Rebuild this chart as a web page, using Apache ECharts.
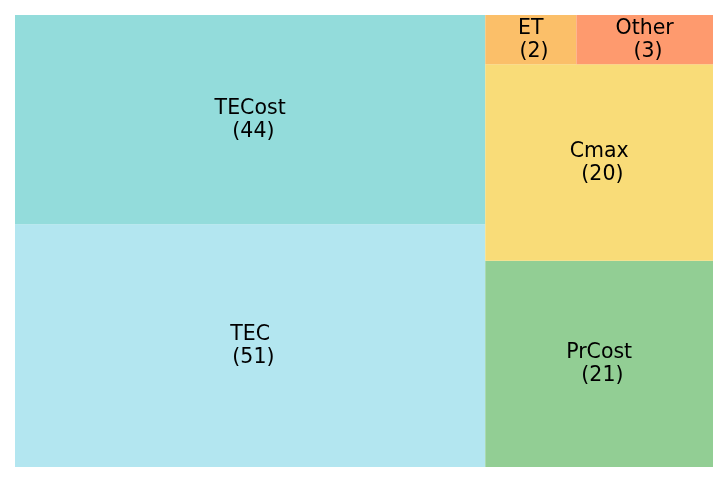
<!DOCTYPE html>
<html>
<head>
<meta charset="utf-8">
<script src="https://cdn.jsdelivr.net/npm/echarts@6/dist/echarts.min.js"></script>
<style>html,body{margin:0;padding:0;background:#fff}#c{width:727px;height:483px}</style>
</head>
<body>
<div id="c"></div>
<script>
const categories = ['TEC', 'TECost', 'PrCost', 'Cmax', 'ET', 'Other'];
const values = [51, 44, 21, 20, 2, 3];
const colors = ['#b3e6f0', '#93dcdb', '#92ce94', '#f9dc78', '#fbbf69', '#fe9a6e'];

// squarify algorithm (Laserson) in normalized 100x100 space
function layoutrow(s, x, y, dx, dy) { const a = s.reduce((p, q) => p + q, 0); const w = a / dy; return s.map(v => { const r = {x: x, y: y, dx: w, dy: v / w}; y += v / w; return r; }); }
function layoutcol(s, x, y, dx, dy) { const a = s.reduce((p, q) => p + q, 0); const h = a / dx; return s.map(v => { const r = {x: x, y: y, dx: v / h, dy: h}; x += v / h; return r; }); }
function layout(s, x, y, dx, dy) { return dx >= dy ? layoutrow(s, x, y, dx, dy) : layoutcol(s, x, y, dx, dy); }
function leftover(s, x, y, dx, dy) {
  const a = s.reduce((p, q) => p + q, 0);
  if (dx >= dy) { const w = a / dy; return [x + w, y, dx - w, dy]; }
  const h = a / dx; return [x, y + h, dx, dy - h];
}
function worst(s, x, y, dx, dy) { return Math.max(...layout(s, x, y, dx, dy).map(r => Math.max(r.dx / r.dy, r.dy / r.dx))); }
function squarify(s, x, y, dx, dy) {
  if (s.length === 0) return [];
  if (s.length === 1) return layout(s, x, y, dx, dy);
  let i = 1;
  while (i < s.length && worst(s.slice(0, i), x, y, dx, dy) >= worst(s.slice(0, i + 1), x, y, dx, dy)) i++;
  const cur = s.slice(0, i), rem = s.slice(i);
  const lo = leftover(cur, x, y, dx, dy);
  return layout(cur, x, y, dx, dy).concat(squarify(rem, lo[0], lo[1], lo[2], lo[3]));
}
const total = values.reduce((a, b) => a + b, 0);
const rects = squarify(values.map(v => v * 10000 / total), 0, 0, 100, 100);
const data = rects.map((r, i) => ({ value: [r.x, r.y, r.x + r.dx, r.y + r.dy], name: categories[i] }));

const chart = echarts.init(document.getElementById('c'));
chart.setOption({
  animation: false,
  grid: { left: 15, top: 15, width: 698, height: 452 },
  xAxis: { type: 'value', min: 0, max: 100, show: false },
  yAxis: { type: 'value', min: 0, max: 100, show: false },
  series: [{
    type: 'custom',
    data: data,
    renderItem: function (params, api) {
      const p0 = api.coord([api.value(0), api.value(1)]);
      const p1 = api.coord([api.value(2), api.value(3)]);
      const i = params.dataIndex;
      const x = Math.min(p0[0], p1[0]), y = Math.min(p0[1], p1[1]);
      const w = Math.abs(p1[0] - p0[0]), h = Math.abs(p1[1] - p0[1]);
      return {
        type: 'group',
        children: [
          { type: 'rect', shape: { x: x, y: y, width: w, height: h }, style: { fill: colors[i] } },
          { type: 'text', x: x + w / 2, y: y + h / 2 + 0.5,
            style: { text: categories[i] + '\n (' + values[i] + ')', fill: '#000', fontSize: 20.5, fontFamily: 'DejaVu Sans', align: 'center', verticalAlign: 'middle', lineHeight: 23 } }
        ]
      };
    }
  }]
});
</script>
</body>
</html>
